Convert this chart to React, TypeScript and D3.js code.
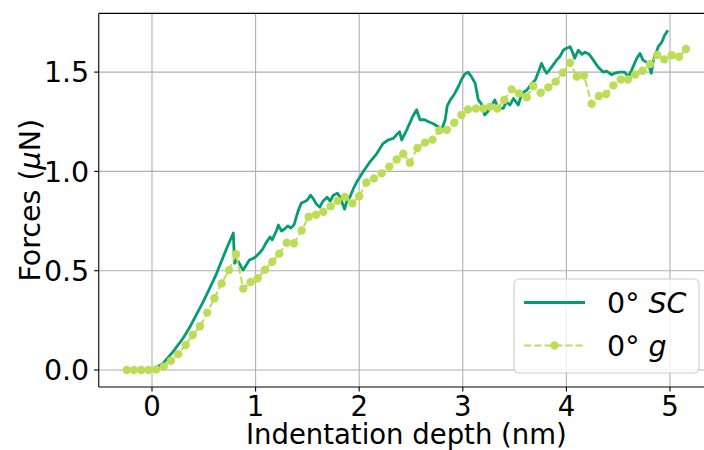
import React from "react";
import * as d3 from "d3";

// SC series (solid line)
const scDepth = [0, 0.1, 0.2, 0.3, 0.367, 0.43, 0.495, 0.56, 0.624, 0.68, 0.721, 0.785,
  0.797, 0.805, 0.815, 0.835, 0.86, 0.88, 0.9, 0.94, 0.97, 1.0, 1.04, 1.07, 1.1, 1.14, 1.16, 1.2, 1.22, 1.25, 1.28, 1.31, 1.34, 1.37, 1.41, 1.44, 1.48, 1.5, 1.53, 1.56, 1.58, 1.62, 1.65, 1.69, 1.72, 1.75, 1.79, 1.81, 1.83, 1.86, 1.88, 1.91, 1.95, 1.98,
  2.04, 2.1, 2.17, 2.23, 2.28, 2.33, 2.37, 2.39, 2.41, 2.46, 2.52, 2.555, 2.587, 2.63, 2.67, 2.715, 2.763, 2.796, 2.83, 2.85, 2.88, 2.92, 2.96, 2.99,
  3.02, 3.05, 3.08, 3.12, 3.15, 3.18, 3.21, 3.24, 3.27, 3.31, 3.34, 3.39, 3.42, 3.455, 3.49, 3.535, 3.57, 3.62, 3.665, 3.7, 3.73, 3.76, 3.79, 3.81, 3.85, 3.906, 3.94, 3.97,
  4.0, 4.035, 4.06, 4.08, 4.115, 4.15, 4.18, 4.22, 4.26, 4.3, 4.32, 4.355, 4.39, 4.437, 4.47, 4.517, 4.56, 4.6, 4.63, 4.68, 4.71, 4.74, 4.79, 4.82, 4.84, 4.887, 4.92, 4.95, 4.98];
const scForce = [0, 0.03, 0.09, 0.16, 0.218, 0.28, 0.344, 0.415, 0.487, 0.56, 0.613, 0.69,
  0.537, 0.56, 0.545, 0.545, 0.52, 0.503, 0.52, 0.554, 0.56, 0.57, 0.59, 0.61, 0.64, 0.67, 0.655, 0.7, 0.73, 0.7, 0.71, 0.725, 0.715, 0.73, 0.8, 0.84, 0.85, 0.856, 0.88, 0.86, 0.84, 0.82, 0.85, 0.87, 0.85, 0.88, 0.89, 0.875, 0.85, 0.81, 0.85, 0.87, 0.92, 0.95,
  1.0, 1.045, 1.09, 1.14, 1.158, 1.166, 1.19, 1.2, 1.158, 1.21, 1.28, 1.31, 1.26, 1.26, 1.25, 1.24, 1.225, 1.21, 1.26, 1.33, 1.36, 1.39, 1.43, 1.465,
  1.49, 1.5, 1.48, 1.443, 1.36, 1.34, 1.284, 1.3, 1.326, 1.36, 1.317, 1.317, 1.35, 1.334, 1.367, 1.334, 1.393, 1.41, 1.443, 1.46, 1.5, 1.544, 1.51, 1.494, 1.52, 1.56, 1.58, 1.61,
  1.62, 1.628, 1.6, 1.57, 1.61, 1.59, 1.6, 1.59, 1.56, 1.53, 1.518, 1.5, 1.505, 1.486, 1.495, 1.5, 1.5, 1.477, 1.51, 1.57, 1.594, 1.56, 1.544, 1.494, 1.56, 1.628, 1.65, 1.687, 1.71];

// g series (dashed line with markers)
const gDepth = [-0.244, -0.174, -0.104, -0.034, 0.04, 0.113, 0.183, 0.254, 0.325, 0.393, 0.463, 0.534, 0.602, 0.672, 0.743, 0.811, 0.881, 0.952, 1.02, 1.09,
  1.161, 1.229, 1.3, 1.37, 1.445, 1.512, 1.583, 1.654, 1.725, 1.79, 1.863, 1.934, 2.0, 2.07, 2.143, 2.217, 2.29, 2.362, 2.425, 2.49,
  2.562, 2.635, 2.708, 2.773, 2.845, 2.917, 2.987, 3.05, 3.127, 3.198, 3.263, 3.333, 3.4, 3.472, 3.542, 3.617, 3.68, 3.752, 3.825, 3.897,
  3.964, 4.035, 4.1, 4.17, 4.244, 4.315, 4.385, 4.453, 4.524, 4.594, 4.665, 4.735, 4.807, 4.877, 4.945, 5.016, 5.087, 5.154];
const gForce = [0, 0, 0, 0, 0.003, 0.017, 0.047, 0.08, 0.126, 0.176, 0.22, 0.289, 0.361, 0.436, 0.503, 0.583, 0.41, 0.443, 0.462, 0.505,
  0.545, 0.586, 0.641, 0.638, 0.703, 0.772, 0.782, 0.797, 0.825, 0.852, 0.871, 0.839, 0.875, 0.944, 0.965, 0.99, 1.024, 1.06, 1.089, 1.044,
  1.118, 1.145, 1.16, 1.206, 1.209, 1.245, 1.284, 1.312, 1.317, 1.317, 1.326, 1.317, 1.36, 1.413, 1.393, 1.373, 1.43, 1.396, 1.423, 1.452,
  1.497, 1.547, 1.477, 1.483, 1.34, 1.38, 1.39, 1.433, 1.463, 1.463, 1.488, 1.507, 1.54, 1.586, 1.564, 1.585, 1.577, 1.616];

const xTicks = [0, 1, 2, 3, 4, 5];
const yTicks = [0, 0.5, 1.0, 1.5];
const yTickLabels = ["0.0", "0.5", "1.0", "1.5"];

const W = 704, H = 450;
const L = 98.75, R = 713.9, T = 13.4, B = 387;
const FONT = "DejaVu Sans, sans-serif";
const FS = 28.5;
const FS_X = 27.5;
const C_SC = "#069c72";
const C_G = "#bddc57";

export default function App() {
  const x = d3.scaleLinear().domain([-0.514, 5.424]).range([L, R]);
  const y = d3.scaleLinear().domain([-0.0855, 1.7955]).range([B, T]);
  const line = d3.line<[number, number]>().x(d => x(d[0])).y(d => y(d[1]));
  const scPts: [number, number][] = scDepth.map((v, i) => [v, scForce[i]]);
  const gPts: [number, number][] = gDepth.map((v, i) => [v, gForce[i]]);

  return (
    <svg width={W} height={H} style={{ position: "absolute", left: 0, top: 0, background: "#fff" }} fontFamily={FONT}>
      <defs>
        <clipPath id="plot">
          <rect x={L} y={T} width={R - L} height={B - T} />
        </clipPath>
      </defs>
      <rect x={0} y={0} width={W} height={H} fill="#fff" />
      {/* grid */}
      <g stroke="#b0b0b0" strokeWidth={1.1}>
        {xTicks.map(t => <line key={"gx" + t} x1={x(t)} x2={x(t)} y1={T} y2={B} />)}
        {yTicks.map(t => <line key={"gy" + t} x1={L} x2={R} y1={y(t)} y2={y(t)} />)}
      </g>
      {/* data */}
      <g clipPath="url(#plot)">
        <path d={line(scPts) || ""} fill="none" stroke={C_SC} strokeWidth={2.8} strokeLinejoin="round" />
        <path d={line(gPts) || ""} fill="none" stroke={C_G} strokeWidth={2} strokeDasharray="7.2,3.1" />
        {gPts.map((p, i) => <circle key={i} cx={x(p[0])} cy={y(p[1])} r={4.2} fill={C_G} />)}
      </g>
      {/* spines */}
      <g stroke="#000" strokeWidth={1.1} fill="none">
        <line x1={L} x2={L} y1={T} y2={B} />
        <line x1={L} x2={R} y1={B} y2={B} />
        <line x1={L} x2={R} y1={T} y2={T} />
        <line x1={R} x2={R} y1={T} y2={B} />
      </g>
      {/* ticks */}
      <g stroke="#000" strokeWidth={1.1}>
        {xTicks.map(t => <line key={"tx" + t} x1={x(t)} x2={x(t)} y1={B} y2={B + 4.6} />)}
        {yTicks.map(t => <line key={"ty" + t} x1={L} x2={L - 4.6} y1={y(t)} y2={y(t)} />)}
      </g>
      <g fontSize={FS} fill="#000">
        {xTicks.map(t => (
          <text key={"lx" + t} x={x(t)} y={B + 28.5} textAnchor="middle" fontSize={FS_X}>{t}</text>
        ))}
        {yTicks.map((t, i) => (
          <text key={"ly" + t} x={L - 9.5} y={y(t) + 10.3} textAnchor="end">{yTickLabels[i]}</text>
        ))}
        <text x={(L + R) / 2} y={443.5} textAnchor="middle" fontSize={FS_X}>Indentation depth (nm)</text>
        <text transform={`translate(40,${(T + B) / 2}) rotate(-90)`} textAnchor="middle">
          Forces (<tspan fontStyle="italic">μ</tspan>N)
        </text>
      </g>
      {/* legend */}
      <g>
        <rect x={514} y={279} width={185} height={94} rx={5} fill="#fff" fillOpacity={0.8} stroke="#cccccc" strokeWidth={1.1} />
        <line x1={524} x2={585} y1={302.5} y2={302.5} stroke={C_SC} strokeWidth={2.8} />
        <line x1={524} x2={585} y1={345.5} y2={345.5} stroke={C_G} strokeWidth={2} strokeDasharray="7.2,3.1" />
        <circle cx={554.5} cy={345.5} r={4.2} fill={C_G} />
        <text x={607} y={313} fontSize={FS}>0° <tspan fontStyle="italic">SC</tspan></text>
        <text x={607} y={356} fontSize={FS}>0° <tspan fontStyle="italic">g</tspan></text>
      </g>
    </svg>
  );
}
